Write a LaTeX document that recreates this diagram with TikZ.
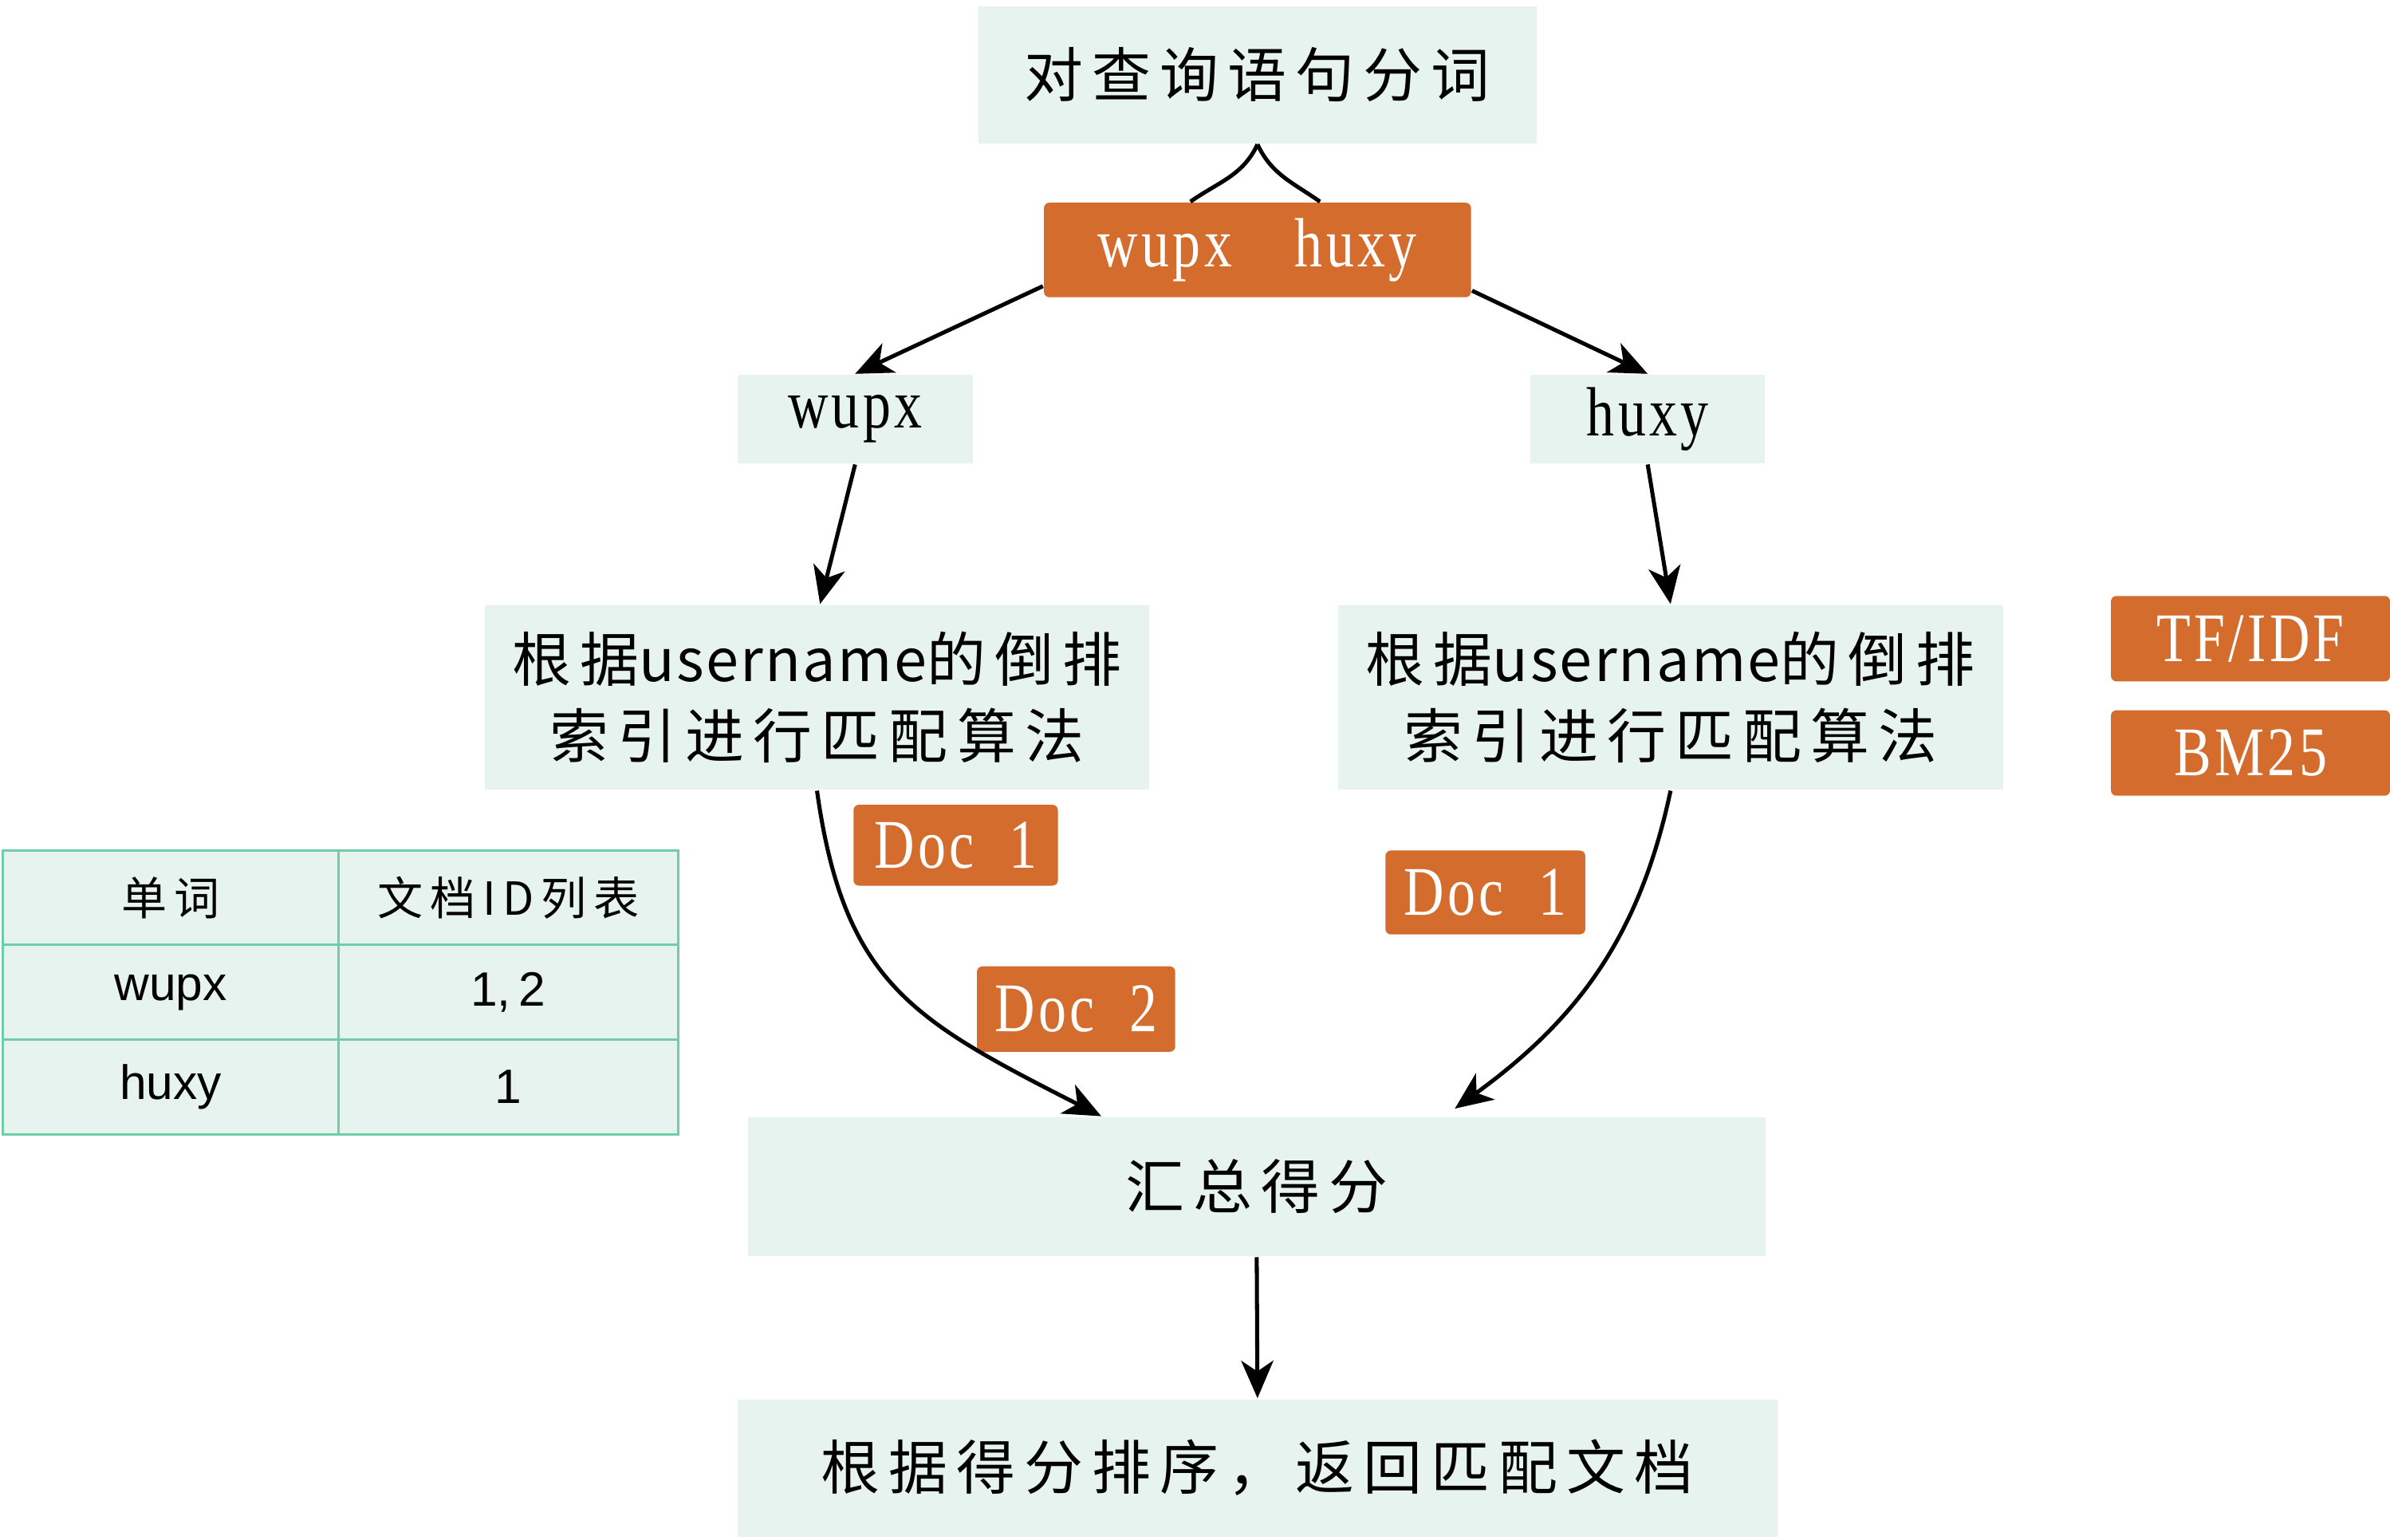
\documentclass[tikz,border=0pt]{standalone}
\usepackage{fontspec}
\setmainfont{Noto Sans CJK SC}[LetterSpace=15]
\newfontfamily\cjklat{Noto Sans CJK SC}[LetterSpace=3]
\newfontfamily\latserif{Liberation Serif}[FakeStretch=0.8,LetterSpace=5]
\newfontfamily\tabsans{Liberation Sans}
\usetikzlibrary{arrows.meta,calc}
\definecolor{mint}{HTML}{E7F3EE}
\definecolor{rust}{HTML}{D36C2C}
\definecolor{tabline}{HTML}{6FCDA8}
\begin{document}
\begin{tikzpicture}[x=0.01cm,y=-0.01cm,
  mbox/.style={fill=mint, inner sep=0pt, align=center, font=\fontsize{11pt}{14.2pt}\selectfont},
  obox/.style={fill=rust, rounded corners=1pt, inner sep=0pt, text=white, font=\latserif\fontsize{13pt}{15pt}\selectfont},
  lbox/.style={fill=mint, inner sep=0pt, font=\latserif\fontsize{13pt}{15pt}\selectfont},
  cell/.style={draw=tabline, fill=mint, line width=0.45pt, inner sep=0pt, minimum height=0.62cm, font=\fontsize{8.5pt}{10pt}\selectfont},
  conn/.style={line width=0.75pt},
  arr/.style={conn, -{Stealth[length=7pt,width=6pt,inset=2pt]}}
]
\useasboundingbox (0,0) rectangle (1568,1010);

% main flow boxes
\node[mbox, minimum width=3.66cm, minimum height=0.90cm] (top) at (825,49) {对查询语句分词};
\node[obox, minimum width=2.80cm, minimum height=0.62cm] (ob) at (825,164) {wupx\hspace{0.9em}huxy};
\node[lbox, minimum width=1.54cm, minimum height=0.58cm] (w) at (561,275) {wupx};
\node[lbox, minimum width=1.54cm, minimum height=0.58cm] (h) at (1081,275) {huxy};
\node[mbox, minimum width=4.36cm, minimum height=1.21cm] (la) at (536,457.5) {根据{\cjklat username}的倒排\\索引进行匹配算法};
\node[mbox, minimum width=4.36cm, minimum height=1.21cm] (ra) at (1096,457.5) {根据{\cjklat username}的倒排\\索引进行匹配算法};
\node[obox, minimum width=1.34cm, minimum height=0.53cm] (d1) at (627,554.5) {Doc\hspace{0.5em}1};
\node[obox, minimum width=1.30cm, minimum height=0.56cm] (d2) at (706,662) {Doc\hspace{0.5em}2};
\node[obox, minimum width=1.31cm, minimum height=0.55cm] (d3) at (974.5,585.5) {Doc\hspace{0.5em}1};
\node[obox, minimum width=1.83cm, minimum height=0.56cm] (tf) at (1476.5,419) {TF/IDF};
\node[obox, minimum width=1.83cm, minimum height=0.56cm] (bm) at (1476.5,494) {BM25};
\node[mbox, minimum width=6.67cm, minimum height=0.91cm] (sum) at (824.5,778.5) {汇总得分};
\node[mbox, minimum width=6.82cm, minimum height=0.90cm] (bot) at (825,963) {根据得分排序，返回匹配文档};

% table
\node[cell, minimum width=2.20cm] (t11) at (112,589) {单词};
\node[cell, minimum width=2.23cm] (t12) at (333.5,589) {文档ID列表};
\node[cell, minimum width=2.20cm, font=\tabsans\fontsize{9pt}{10pt}\selectfont] (t21) at (112,651) {\raisebox{-1pt}{wupx}};
\node[cell, minimum width=2.23cm, font=\tabsans\fontsize{9pt}{10pt}\selectfont] (t22) at (333.5,651) {1,\,2};
\node[cell, minimum width=2.20cm, font=\tabsans\fontsize{9pt}{10pt}\selectfont] (t31) at (112,713) {huxy};
\node[cell, minimum width=2.23cm, font=\tabsans\fontsize{9pt}{10pt}\selectfont] (t32) at (333.5,713) {1};

% connectors
\draw[conn] (top.south) to[out=-115,in=35] ($(ob.north)+(-44,0)$);
\draw[conn] (top.south) to[out=-65,in=145] ($(ob.north)+(41,0)$);
\draw[arr] ($(ob.south west)+(0,-8)$) -- (w.north);
\draw[arr] ($(ob.south east)+(0,-5)$) -- (h.north);
\draw[arr] (w.south) -- ($(la.north)+(2,0)$);
\draw[arr] (h.south) -- (ra.north);
\draw[arr] (la.south) to[out=-82,in=153,out looseness=1.15,in looseness=1.25] ($(sum.north)+(-102,0)$);
\draw[arr] (ra.south) to[out=-102,in=36] ($(sum.north)+(130,-5)$);
\draw[arr] (sum.south) -- (bot.north);
\end{tikzpicture}
\end{document}
